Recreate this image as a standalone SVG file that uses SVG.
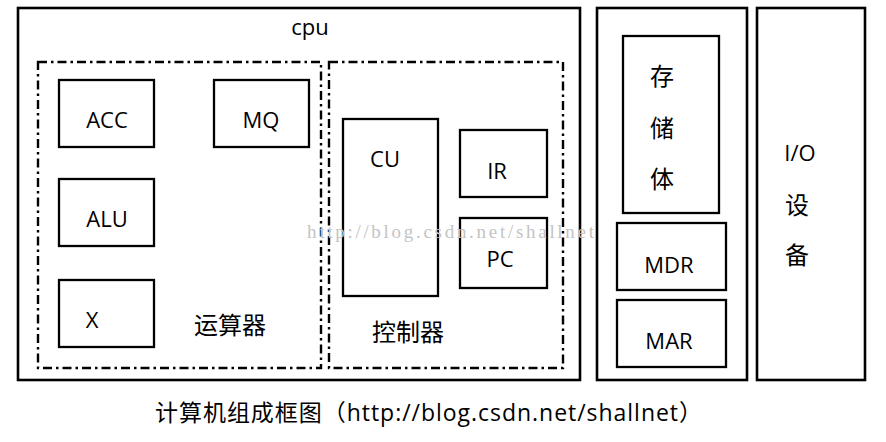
<svg xmlns="http://www.w3.org/2000/svg" width="886" height="442" viewBox="0 0 886 442">
<style>
.box{fill:none;stroke:#000;stroke-width:2.3}
.outer{fill:none;stroke:#000;stroke-width:2.6}
.dd{fill:none;stroke:#000;stroke-width:2.4;stroke-dasharray:9 4 2.5 4}
.t{font-family:"Open Sans","Liberation Sans","Noto Sans CJK SC",sans-serif;font-size:22px;fill:#000;text-anchor:middle}
.c{font-family:"Noto Sans CJK SC",sans-serif;font-size:24px;fill:#000;text-anchor:middle}
.wm{font-family:"Liberation Serif",serif;font-size:19px;fill:#c4c4c4}
</style>
<rect x="0" y="0" width="886" height="442" fill="#fff"/>
<g id="cpu"><rect class="outer" x="18" y="8" width="562" height="372"/><text class="t" x="310" y="35">cpu</text></g>
<g id="alu-group"><rect class="dd" x="38" y="62" width="283" height="306"/><text class="c" x="230" y="334">运算器</text></g>
<g id="cu-group"><rect class="dd" x="329" y="62" width="234" height="306"/><text class="c" x="408" y="341">控制器</text></g>
<g id="acc"><rect class="box" x="59" y="80" width="95" height="67"/><text class="t" x="107" y="128">ACC</text></g>
<g id="mq"><rect class="box" x="214" y="80" width="95" height="67"/><text class="t" x="261" y="128">MQ</text></g>
<g id="alu"><rect class="box" x="59" y="179" width="95" height="67"/><text class="t" x="107" y="227">ALU</text></g>
<g id="x"><rect class="box" x="59" y="280" width="95" height="67"/><text class="t" x="92" y="328">X</text></g>
<g id="cu"><rect class="box" x="343" y="119" width="95" height="177"/><text class="t" x="385" y="167">CU</text></g>
<g id="ir"><rect class="box" x="460" y="130" width="87" height="67"/><text class="t" x="497" y="179">IR</text></g>
<g id="pc"><rect class="box" x="460" y="218" width="87" height="70"/><text class="t" x="500" y="267">PC</text></g>
<g id="memory"><rect class="outer" x="597" y="8" width="150" height="372"/></g>
<g id="storage"><rect class="box" x="623" y="36" width="96" height="177"/><text class="c" x="662" y="85">存</text><text class="c" x="662" y="137">储</text><text class="c" x="662" y="188">体</text></g>
<g id="mdr"><rect class="box" x="617" y="223" width="109" height="67"/><text class="t" x="669" y="273">MDR</text></g>
<g id="mar"><rect class="box" x="617" y="300" width="109" height="67"/><text class="t" x="669" y="349">MAR</text></g>
<g id="io"><rect class="outer" x="757" y="8" width="108" height="372"/><text class="t" x="800" y="161">I/O</text><text class="c" x="797" y="214">设</text><text class="c" x="797" y="264">备</text></g>
<g id="connectors"></g>
<text class="wm" x="307" y="238" textLength="287">http://blog.csdn.net/shallnet</text>
<text font-family="Open Sans,Noto Sans CJK SC,sans-serif" font-size="23" x="155" y="421" textLength="547">计算机组成框图（http://blog.csdn.net/shallnet）</text>
</svg>
